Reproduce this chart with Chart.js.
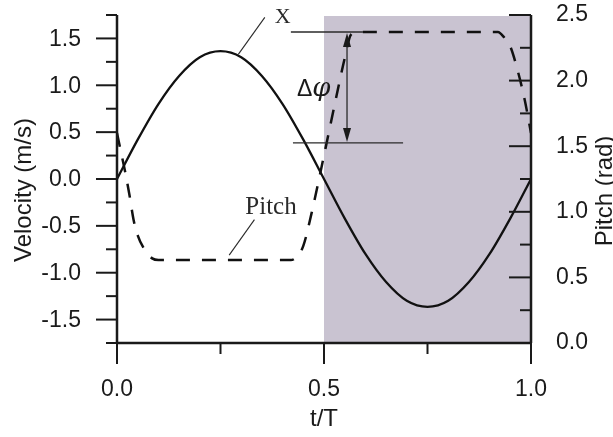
<!DOCTYPE html>
<html>
<head>
<meta charset="utf-8">
<script src="https://cdn.jsdelivr.net/npm/chart.js@4.4.0/dist/chart.umd.min.js"></script>
<style>
  html, body { margin: 0; padding: 0; background: #fff; }
</style>
</head>
<body>
<canvas id="phase-chart" width="613" height="437"></canvas>
<script>
// -- Data --
// velocity X (m/s), solid curve, left axis
var tVel = [0, 0.05, 0.1, 0.15, 0.2, 0.25, 0.3, 0.35, 0.4, 0.45, 0.5,
            0.55, 0.6, 0.65, 0.7, 0.75, 0.8, 0.85, 0.9, 0.95, 1.0];
var velocity = [0, 0.42, 0.80, 1.10, 1.30, 1.365, 1.30, 1.10, 0.80, 0.42, 0,
                -0.42, -0.80, -1.10, -1.30, -1.365, -1.30, -1.10, -0.80, -0.42, 0];

// pitch (rad), dashed curve, right axis
var tPitch = [0, 0.01, 0.02, 0.03, 0.04, 0.05, 0.065, 0.085, 0.1,
              0.42, 0.435, 0.45, 0.47, 0.49, 0.51, 0.53, 0.55, 0.565, 0.58,
              0.92, 0.935, 0.95, 0.97, 0.985, 1.0];
var pitch = [1.60, 1.45, 1.30, 1.13, 0.94, 0.82, 0.72, 0.645, 0.632,
             0.632, 0.66, 0.74, 0.99, 1.28, 1.58, 1.88, 2.17, 2.35, 2.37,
             2.37, 2.33, 2.26, 2.05, 1.85, 1.60];

// tick labels
var xTicks = [0, 0.5, 1.0];
var xMinor = [0.25, 0.75];
var velTicks = [-1.5, -1.0, -0.5, 0, 0.5, 1.0, 1.5];
var velMinor = [-1.75, -1.25, -0.75, -0.25, 0.25, 0.75, 1.25, 1.75];
var pitchTicks = [0, 0.5, 1.0, 1.5, 2.0, 2.5];
var pitchMinor = [0.25, 0.75, 1.25, 1.75, 2.25];

// shaded half period
var shadeFrom = 0.5;
var shadeTo = 1.0;

var INK = '#1a1a1a';
var SANS = '"Liberation Sans", Arial, sans-serif';
var SERIF = '"Liberation Serif", "Times New Roman", serif';

function pts(xs, ys) {
  var out = [];
  for (var i = 0; i < xs.length; i++) {
    out.push({ x: xs[i], y: ys[i] });
  }
  return out;
}

var shadePlugin = {
  id: 'shade',
  beforeDatasetsDraw: function (chart) {
    var c = chart.ctx;
    var a = chart.chartArea;
    var sx = chart.scales.x;
    var x0 = sx.getPixelForValue(shadeFrom);
    var x1 = sx.getPixelForValue(shadeTo);
    c.save();
    c.fillStyle = '#c9c3d1';
    c.fillRect(x0, a.top + 1, x1 - x0, a.bottom - a.top - 1);
    c.restore();
  }
};

var axesPlugin = {
  id: 'axesFrame',
  afterDraw: function (chart) {
    var c = chart.ctx;
    var a = chart.chartArea;
    var sx = chart.scales.x;
    var sy = chart.scales.y;
    var sp = chart.scales.y1;

    function line(x1, y1, x2, y2) {
      c.beginPath();
      c.moveTo(x1, y1);
      c.lineTo(x2, y2);
      c.stroke();
    }

    c.save();
    c.strokeStyle = INK;
    c.fillStyle = INK;

    // axis lines
    c.lineWidth = 2.5;
    line(a.left, a.top, a.left, a.bottom);
    line(a.left, a.bottom, a.right, a.bottom);
    line(a.right, a.top, a.right, a.bottom);

    // ticks
    c.lineWidth = 2;
    velTicks.forEach(function (v) {
      var y = sy.getPixelForValue(v);
      line(a.left - 21, y, a.left, y);
    });
    velMinor.forEach(function (v) {
      var y = sy.getPixelForValue(v);
      line(a.left - 11, y, a.left, y);
    });
    xTicks.forEach(function (v) {
      var x = sx.getPixelForValue(v);
      line(x, a.bottom, x, a.bottom + 21);
    });
    xMinor.forEach(function (v) {
      var x = sx.getPixelForValue(v);
      line(x, a.bottom, x, a.bottom + 11);
    });
    pitchTicks.forEach(function (v) {
      var y = sp.getPixelForValue(v);
      line(a.right - 22, y, a.right, y);
    });
    pitchMinor.forEach(function (v) {
      var y = sp.getPixelForValue(v);
      line(a.right - 11, y, a.right, y);
    });

    // tick labels
    c.font = '23px ' + SANS;
    c.textBaseline = 'middle';
    c.textAlign = 'right';
    velTicks.forEach(function (v) {
      c.fillText(v.toFixed(1), a.left - 36, sy.getPixelForValue(v) + 1);
    });
    c.textAlign = 'left';
    pitchTicks.forEach(function (v) {
      c.fillText(v.toFixed(1), a.right + 25, sp.getPixelForValue(v));
    });
    c.textAlign = 'center';
    xTicks.forEach(function (v) {
      c.fillText(v.toFixed(1), sx.getPixelForValue(v), a.bottom + 47);
    });

    // axis titles
    c.font = '24px ' + SANS;
    c.fillText('t/T', (a.left + a.right) / 2, a.bottom + 76);
    c.save();
    c.translate(24, 190);
    c.rotate(-Math.PI / 2);
    c.fillText('Velocity (m/s)', 0, 0);
    c.restore();
    c.save();
    c.translate(605, 191);
    c.rotate(-Math.PI / 2);
    c.fillText('Pitch (rad)', 0, 0);
    c.restore();

    // -- annotations --
    c.lineWidth = 1.1;
    c.strokeStyle = '#2a2a2a';
    // X leader
    line(sx.getPixelForValue(0.357), sy.getPixelForValue(1.725),
         sx.getPixelForValue(0.293), sy.getPixelForValue(1.33));
    // Pitch leader
    line(sx.getPixelForValue(0.332), sp.getPixelForValue(0.94),
         sx.getPixelForValue(0.271), sp.getPixelForValue(0.67));

    c.font = '22px ' + SERIF;
    c.fillStyle = '#2a2a2a';
    c.fillText('X', sx.getPixelForValue(0.4), sy.getPixelForValue(1.725));
    c.font = '25px ' + SERIF;
    c.fillText('Pitch', sx.getPixelForValue(0.372), sp.getPixelForValue(1.03));

    // delta phi reference lines
    var yHi = sp.getPixelForValue(2.37);
    var yLo = sp.getPixelForValue(1.525);
    c.lineWidth = 1.4;
    line(sx.getPixelForValue(0.42), yHi, sx.getPixelForValue(0.594), yHi);
    line(sx.getPixelForValue(0.425), yLo, sx.getPixelForValue(0.691), yLo);

    // double arrow
    var xa = sx.getPixelForValue(0.5556);
    c.lineWidth = 1.3;
    line(xa, yHi + 6, xa, yLo - 6);
    c.fillStyle = INK;
    c.beginPath();
    c.moveTo(xa, yHi + 1);
    c.lineTo(xa - 4, yHi + 15);
    c.lineTo(xa + 4, yHi + 15);
    c.closePath();
    c.fill();
    c.beginPath();
    c.moveTo(xa, yLo - 1);
    c.lineTo(xa - 4, yLo - 15);
    c.lineTo(xa + 4, yLo - 15);
    c.closePath();
    c.fill();

    // delta phi label
    c.textAlign = 'left';
    c.textBaseline = 'alphabetic';
    c.font = '23px ' + SANS;
    c.fillText('\u0394', 297, 96);
    var dw = c.measureText('\u0394').width;
    c.font = 'italic 26px "DejaVu Serif", serif';
    c.fillText('\u03C6', 297 + dw, 96);

    c.restore();
  }
};

new Chart(document.getElementById('phase-chart').getContext('2d'), {
  type: 'line',
  data: {
    datasets: [
      {
        label: 'X',
        data: pts(tVel, velocity),
        yAxisID: 'y',
        borderColor: '#111',
        borderWidth: 2.3,
        pointRadius: 0,
        cubicInterpolationMode: 'monotone',
        fill: false
      },
      {
        label: 'Pitch',
        data: pts(tPitch, pitch),
        yAxisID: 'y1',
        borderColor: '#111',
        borderWidth: 2.5,
        borderDash: [14, 12],
        pointRadius: 0,
        cubicInterpolationMode: 'monotone',
        fill: false
      }
    ]
  },
  options: {
    responsive: false,
    animation: false,
    devicePixelRatio: 1,
    layout: {
      padding: { left: 117, right: 82, top: 15, bottom: 94 }
    },
    plugins: {
      legend: { display: false },
      tooltip: { enabled: false }
    },
    scales: {
      x: { type: 'linear', min: 0, max: 1, display: false },
      y: { type: 'linear', min: -1.75, max: 1.75, display: false },
      y1: { type: 'linear', position: 'right', min: 0, max: 2.5, display: false }
    }
  },
  plugins: [shadePlugin, axesPlugin]
});
</script>
</body>
</html>
